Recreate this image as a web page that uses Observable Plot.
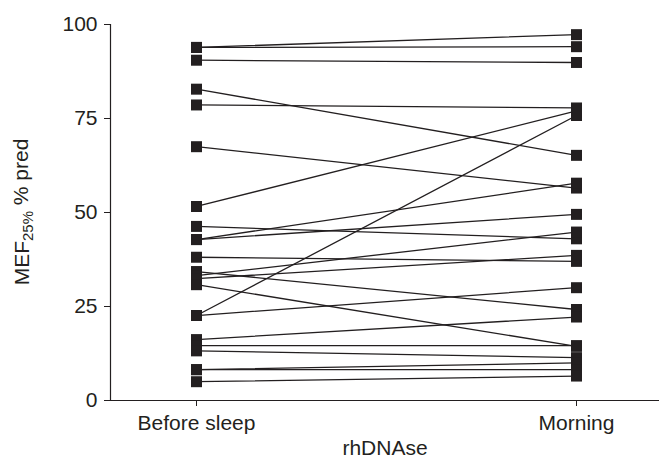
<!DOCTYPE html>
<html><head><meta charset="utf-8">
<script src="https://cdn.jsdelivr.net/npm/d3@7"></script>
<script src="https://cdn.jsdelivr.net/npm/@observablehq/plot@0.6"></script>
<style>html,body{margin:0;padding:0;background:#fff} svg{display:block}</style>
</head><body><div id="chart"></div>
<script>
const timepoints = ["Before sleep", "Morning"];
const beforeSleep = [93.9, 93.9, 90.5, 82.8, 78.6, 67.5, 51.6, 46.3, 42.8, 42.8, 38.1, 34.3, 33.2, 32.4, 30.8, 22.6, 22.6, 16.2, 14.6, 13.2, 8.2, 8.2, 5.0];
const morning     = [97.3, 94.1, 89.9, 65.2, 77.8, 56.5, 77.0, 43.0, 57.8, 49.5, 37.0, 24.2, 44.8, 38.6, 14.4, 75.8, 30.0, 22.2, 14.6, 11.4, 10.0, 8.2, 6.5];
const yTicks = [0, 25, 50, 75, 100];
const xLabel = "rhDNAse";
const yLabelMain = "MEF";
const yLabelSub = "25%";
const yLabelRest = " % pred";

const rows = beforeSleep.flatMap((b, i) => [
  {id: i, time: timepoints[0], value: b},
  {id: i, time: timepoints[1], value: morning[i]}
]);
const ink = "#231f20";
const font = "'Liberation Sans', Arial, sans-serif";

const chart = Plot.plot({
  width: 659, height: 459,
  marginTop: 24, marginBottom: 59, marginLeft: 110, marginRight: 0,
  style: {fontFamily: font, fontSize: "21px", color: ink, background: "#fff"},
  x: {type: "point", domain: timepoints, padding: 0.218, insetLeft: 2, label: null},
  y: {domain: [0, 100], label: null},
  marks: [
    Plot.axisY({ticks: yTicks, tickSize: 6, tickPadding: 7, label: null, fontSize: 21}),
    Plot.axisX({tickSize: 6, tickPadding: 9, label: xLabel, labelAnchor: "center", labelOffset: 54, fontSize: 21}),
    Plot.ruleY([0], {stroke: ink, strokeWidth: 1.2}),
    Plot.frame({anchor: "left", stroke: ink, strokeWidth: 1.2}),
    Plot.line(rows, {x: "time", y: "value", z: "id", stroke: ink, strokeWidth: 1.3}),
    Plot.dot(rows, {x: "time", y: "value", symbol: "square", r: 6.2, fill: ink, stroke: null})
  ]
});
document.getElementById("chart").append(chart);

const svg = d3.select(chart);
const t = svg.append("text")
  .attr("transform", "translate(22,212) rotate(-90)")
  .attr("text-anchor", "middle")
  .attr("dy", "0.35em")
  .attr("fill", ink)
  .style("font-family", font)
  .style("font-size", "21px");
t.append("tspan").text(yLabelMain);
t.append("tspan").attr("dy", "0.25em").style("font-size", "15px").text(yLabelSub);
t.append("tspan").attr("dy", "-0.25em").text(yLabelRest);
</script>
</body></html>
